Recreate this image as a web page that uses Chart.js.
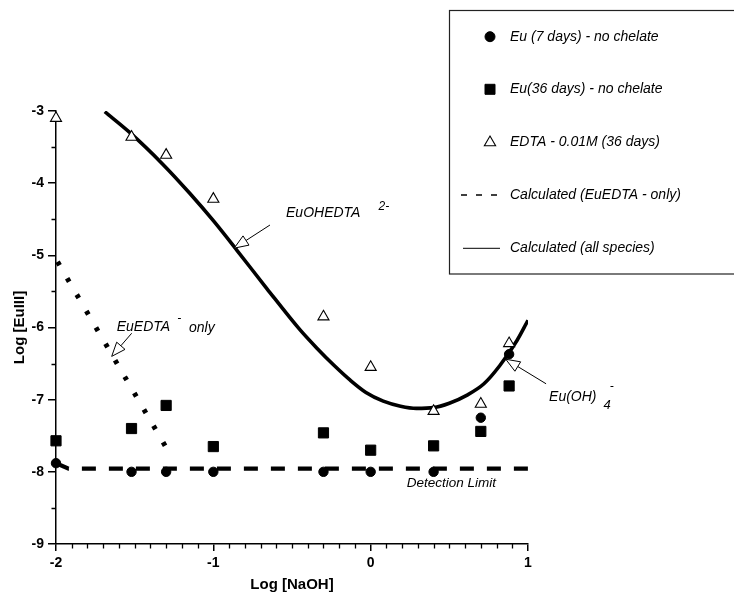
<!DOCTYPE html>
<html>
<head>
<meta charset="utf-8">
<script src="https://cdn.jsdelivr.net/npm/chart.js@4/dist/chart.umd.min.js"></script>
<style>
  html, body { margin: 0; padding: 0; background: #fff; }
  #wrap { width: 734px; height: 594px; }
</style>
</head>
<body>
<div id="wrap"><canvas id="c" width="734" height="594"></canvas></div>
<script>
// ---- data ----
const logNaOH   = [-2, -1.52, -1.3, -1, -0.3, 0, 0.4, 0.7, 0.88];
const eu7days   = [-7.88, -8.0, -8.0, -8.0, -8.0, -8.0, -8.0, -7.25, -6.37];
const eu36days  = [-7.57, -7.40, -7.08, -7.65, -7.46, -7.70, -7.64, -7.44, -6.81];
const edta36    = [-3.10, -3.36, -3.61, -4.22, -5.85, -6.55, -7.16, -7.06, -6.22];

const calcAllX  = [-1.69, -1.53, -1.32, -1.15, -1.0, -0.85, -0.66, -0.45, -0.34, -0.24, -0.13, -0.03, 0.08, 0.19, 0.29, 0.40, 0.50, 0.61, 0.72, 0.82, 0.93, 1.0];
const calcAllY  = [-3.01, -3.30, -3.74, -4.14, -4.52, -4.93, -5.46, -6.03, -6.29, -6.51, -6.73, -6.90, -7.02, -7.09, -7.12, -7.11, -7.05, -6.94, -6.78, -6.53, -6.18, -5.90];

const calcEdtaX = [-1.99, -1.29];
const calcEdtaY = [-5.09, -7.70];

const detectX   = [-2, -1.92, 1];
const detectY   = [-7.88, -7.955, -7.955];

const legendLabels = ['Eu (7 days) - no chelate', 'Eu(36 days) - no chelate', 'EDTA - 0.01M (36 days)', 'Calculated (EuEDTA - only)', 'Calculated (all species)'];
const xTitle = 'Log [NaOH]';
const yTitle = 'Log [EuIII]';

const pts = (xs, ys) => xs.map((v, i) => ({ x: v, y: ys[i] }));

const FONT = '"Liberation Sans", Arial, Helvetica, sans-serif';

// ---- annotation / legend / minor tick plugin ----
const decor = {
  id: 'decor',
  afterDraw(chart) {
    const { ctx, scales: { x, y } } = chart;
    const X = v => x.getPixelForValue(v);
    const Y = v => y.getPixelForValue(v);
    ctx.save();
    ctx.strokeStyle = '#000';
    ctx.fillStyle = '#000';

    // minor ticks
    ctx.lineWidth = 1.3;
    ctx.beginPath();
    for (let i = 1; i < 30; i++) {
      if (i % 10 === 0) continue;
      const px = Math.round(X(-2 + i * 0.1)) + 0.5;
      ctx.moveTo(px, Y(-9));
      ctx.lineTo(px, Y(-9) + 4.5);
    }
    for (let v = -8.5; v < -3; v += 1) {
      const py = Math.round(Y(v)) + 0.5;
      ctx.moveTo(X(-2), py);
      ctx.lineTo(X(-2) - 4.5, py);
    }
    ctx.stroke();

    // arrow helper: hollow head at (tx,ty)
    function arrow(fx, fy, tx, ty) {
      const x1 = X(fx), y1 = Y(fy), x2 = X(tx), y2 = Y(ty);
      const a = Math.atan2(y2 - y1, x2 - x1);
      const L = 14, W = 5.5;
      const bx = x2 - L * Math.cos(a), by = y2 - L * Math.sin(a);
      ctx.lineWidth = 1;
      ctx.beginPath();
      ctx.moveTo(x1, y1);
      ctx.lineTo(bx, by);
      ctx.stroke();
      ctx.beginPath();
      ctx.moveTo(x2, y2);
      ctx.lineTo(bx + W * Math.sin(a), by - W * Math.cos(a));
      ctx.lineTo(bx - W * Math.sin(a), by + W * Math.cos(a));
      ctx.closePath();
      ctx.fillStyle = '#fff';
      ctx.fill();
      ctx.stroke();
      ctx.fillStyle = '#000';
    }
    function text(t, vx, vy, size) {
      ctx.font = 'italic ' + size + 'px ' + FONT;
      ctx.textAlign = 'left';
      ctx.textBaseline = 'middle';
      ctx.fillText(t, X(vx), Y(vy));
    }

    // EuOHEDTA 2-
    arrow(-0.64, -4.58, -0.867, -4.90);
    text('EuOHEDTA', -0.538, -4.42, 14);
    text('2-', 0.05, -4.32, 12);

    // EuEDTA - only
    arrow(-1.519, -6.08, -1.646, -6.40);
    text('EuEDTA', -1.614, -6.0, 14);
    text('-', -1.23, -5.88, 12);
    text('only', -1.155, -6.01, 14);

    // Eu(OH)4 -
    arrow(1.115, -6.78, 0.859, -6.44);
    text('Eu(OH)', 1.134, -6.96, 14);
    text('4', 1.48, -7.08, 13);
    text('-', 1.52, -6.82, 12);

    // Detection limit
    text('Detection Limit', 0.229, -8.16, 13.5);

    // legend box
    ctx.lineWidth = 1.2;
    ctx.strokeStyle = '#222';
    ctx.strokeRect(449.5, 10.5, 300, 263.5);
    ctx.strokeStyle = '#000';
    const rows = [36.7, 89.3, 142.5, 195, 248.3];
    const ds = chart.data.datasets;
    ctx.font = 'italic 14px ' + FONT;
    ctx.textBaseline = 'middle';
    ctx.textAlign = 'left';
    [0, 1, 2, 3, 4].forEach((di, i) => {
      const d = ds[di];
      const yy = rows[i];
      if (d.showLine) {
        ctx.save();
        ctx.lineWidth = d.legendLineWidth || 1;
        ctx.setLineDash(d.legendDash || []);
        ctx.beginPath();
        ctx.moveTo(d.legendDash ? 461 : 463, yy);
        ctx.lineTo(500, yy);
        ctx.stroke();
        ctx.restore();
      } else {
        ctx.fillStyle = d.backgroundColor;
        ctx.strokeStyle = d.borderColor;
        ctx.lineWidth = d.borderWidth;
        ctx.beginPath();
        if (d.pointStyle === 'circle') {
          ctx.arc(490, yy, d.legendRadius, 0, Math.PI * 2);
        } else if (d.pointStyle === 'rect') {
          ctx.rect(490 - 5, yy - 5, 10, 10);
        } else {
          const r = d.legendRadius;
          ctx.moveTo(490, yy - r);
          ctx.lineTo(490 + r * 0.866, yy + r * 0.5);
          ctx.lineTo(490 - r * 0.866, yy + r * 0.5);
          ctx.closePath();
        }
        ctx.fill();
        ctx.stroke();
        ctx.fillStyle = '#000';
        ctx.strokeStyle = '#000';
      }
      ctx.fillText(legendLabels[i], 510, yy);
    });
    ctx.restore();
  }
};

new Chart(document.getElementById('c'), {
  type: 'scatter',
  data: {
    datasets: [
      {
        label: legendLabels[0],
        data: pts(logNaOH, eu7days),
        pointStyle: 'circle',
        pointRadius: 4.7,
        legendRadius: 5,
        backgroundColor: '#000',
        borderColor: '#000',
        borderWidth: 1,
        clip: false,
        order: 0
      },
      {
        label: legendLabels[1],
        data: pts(logNaOH, eu36days),
        pointStyle: 'rect',
        pointRadius: 7.2,
        legendRadius: 7,
        backgroundColor: '#000',
        borderColor: '#000',
        borderWidth: 1,
        clip: false,
        order: 1
      },
      {
        label: legendLabels[2],
        data: pts(logNaOH, edta36),
        pointStyle: 'triangle',
        pointRadius: 6.4,
        legendRadius: 6.5,
        backgroundColor: '#fff',
        borderColor: '#000',
        borderWidth: 1.1,
        clip: false,
        order: 2
      },
      {
        label: legendLabels[3],
        data: pts(calcEdtaX, calcEdtaY),
        showLine: true,
        pointRadius: 0,
        borderColor: '#000',
        backgroundColor: '#000',
        borderWidth: 5,
        borderDash: [4, 15],
        legendDash: [6, 9],
        legendLineWidth: 1.5,
        clip: false,
        order: 5
      },
      {
        label: legendLabels[4],
        data: pts(calcAllX, calcAllY),
        showLine: true,
        pointRadius: 0,
        borderColor: '#000',
        backgroundColor: '#000',
        borderWidth: 3.6,
        cubicInterpolationMode: 'monotone',
        legendLineWidth: 1,
        order: 4
      },
      {
        label: 'Detection Limit',
        data: pts(detectX, detectY),
        showLine: true,
        pointRadius: 0,
        borderColor: '#000',
        backgroundColor: '#000',
        borderWidth: 4.2,
        borderDash: [14, 13],
        order: 6
      }
    ]
  },
  options: {
    responsive: false,
    devicePixelRatio: 1,
    animation: false,
    layout: { padding: { top: 111, right: 206, left: 0, bottom: 0 } },
    plugins: {
      legend: { display: false },
      tooltip: { enabled: false }
    },
    scales: {
      x: {
        type: 'linear',
        min: -2, max: 1,
        afterFit(s) { s.height = 50; },
        ticks: {
          stepSize: 1,
          color: '#000',
          padding: 4,
          font: { family: FONT, size: 14, weight: 'bold' }
        },
        grid: { display: true, drawOnChartArea: false, drawTicks: true, tickLength: 7, color: '#000', lineWidth: 1.5 },
        border: { display: true, color: '#000', width: 1.5 },
        title: {
          display: true, text: xTitle, color: '#000',
          font: { family: FONT, size: 15, weight: 'bold' },
          padding: { top: 0, bottom: 0 }
        }
      },
      y: {
        type: 'linear',
        min: -9, max: -3,
        afterFit(s) { s.width = 56; },
        ticks: {
          stepSize: 1,
          color: '#000',
          padding: 4,
          font: { family: FONT, size: 14, weight: 'bold' }
        },
        grid: { display: true, drawOnChartArea: false, drawTicks: true, tickLength: 8, color: '#000', lineWidth: 1.5 },
        border: { display: true, color: '#000', width: 1.5 },
        title: {
          display: true, text: yTitle, color: '#000',
          font: { family: FONT, size: 15, weight: 'bold' },
          padding: { top: 11, bottom: 0 }
        }
      }
    }
  },
  plugins: [decor]
});
</script>
</body>
</html>
